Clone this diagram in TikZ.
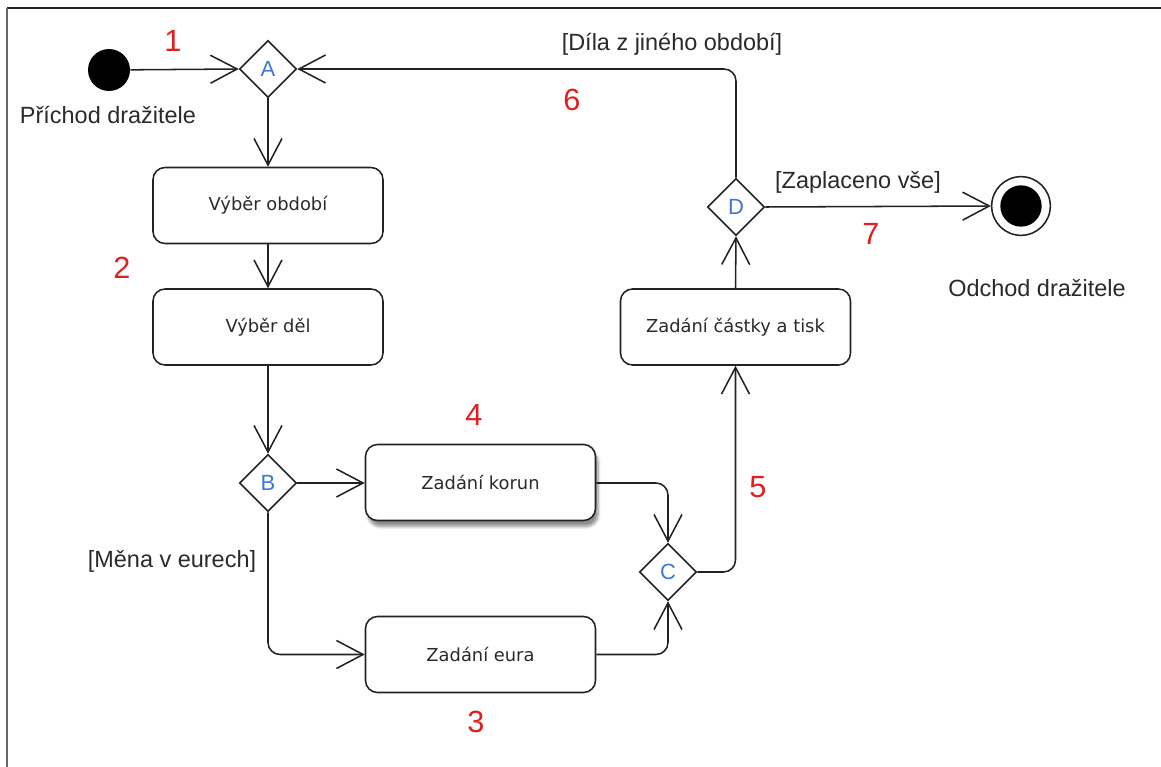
\documentclass[tikz,border=0pt]{standalone}
\usepackage{fontspec}
\setmainfont{Liberation Sans}
\newfontfamily\boxfont{DejaVu Sans}
\usetikzlibrary{arrows.meta,shapes.geometric,shadows.blur}
\definecolor{ink}{HTML}{222222}
\definecolor{txt}{HTML}{2A2A2A}
\definecolor{numred}{HTML}{E02020}
\definecolor{letblue}{HTML}{3C78D8}
\tikzset{
  flow/.style={draw=ink, line width=1.15pt, rounded corners=9pt,
    -{Straight Barb[length=20pt,width=21pt,line width=1.15pt]}},
  activity/.style={draw=ink, line width=1.15pt, rounded corners=9pt, fill=white,
    minimum width=172.5pt, minimum height=57pt, inner sep=0pt,
    font=\boxfont\fontsize{13.4pt}{15pt}\selectfont, text=txt},
  decision/.style={diamond, draw=ink, line width=1.15pt, fill=white,
    minimum width=42.75pt, minimum height=42.75pt, inner sep=0pt,
    font=\fontsize{16.5pt}{17pt}\selectfont, text=letblue},
  label/.style={font=\fontsize{17.6pt}{19pt}\selectfont, text=txt, inner sep=0pt},
  stepno/.style={font=\fontsize{23pt}{25pt}\selectfont, text=numred, inner sep=0pt}
}
\begin{document}
\begin{tikzpicture}[x=0.75pt,y=-0.75pt]
\useasboundingbox (0,0) rectangle (1161,767);
% frame edges
\draw[ink, line width=1.5pt] (7,8) -- (1161,8);
\draw[black!60, line width=1.5pt] (7,8) -- (7,767);

% start and end
\node[circle, fill=black, minimum size=31.5pt, inner sep=0pt] (ini) at (109,70) {};
\node[circle, draw=ink, line width=1.15pt, fill=white, minimum size=44pt, inner sep=0pt] (fin) at (1021,206) {};
\fill[black] (fin.center) circle (15.5pt);

% decisions
\node[decision] (A) at (268,69) {A};
\node[decision] (B) at (268,483) {B};
\node[decision] (C) at (668,572) {C};
\node[decision] (D) at (736,207) {D};

% activities
\node[activity] (vobd) at (268,205.5) {Výběr období};
\node[activity] (vdel) at (268,327) {Výběr děl};
\node[activity, blur shadow={shadow xshift=2pt, shadow yshift=-4.5pt, shadow blur steps=6, shadow opacity=45}] (kor) at (480.5,482.5) {Zadání korun};
\node[activity] (eur) at (480.5,654.5) {Zadání eura};
\node[activity] (cas) at (735.5,327) {Zadání částky a tisk};

% flows
\draw[flow] (ini) -- (A.west);
\draw[flow] (D.north) -- (D.north |- A.east) -- (A.east);
\draw[flow] (A.south) -- (vobd.north);
\draw[flow] (vobd.south) -- (vdel.north);
\draw[flow] (vdel.south) -- (B.north);
\draw[flow] (B.east) -- (B.east -| kor.west);
\draw[flow] (B.south) |- (eur.west);
\draw[flow] (kor.east |- B.east) -| (C.north);
\draw[flow] (eur.east) -| (C.south);
\draw[flow] (C.east) -| (cas.south);
\draw[flow] (cas.north) -- (D.south);
\draw[flow] (D.east) -- (fin.west);

% texts
\node[label] (tstart) at (108,115) {Příchod dražitele};
\node[label] (tend) at (1037,288) {Odchod dražitele};
\node[label] (gother) at (672,44) {[Díla z jiného období]};
\node[label] (gpaid) at (858,182) {[Zaplaceno vše]};
\node[label] (geur) at (172,561) {[Měna v eurech]};

\node[stepno] (n1) at (173,41) {1};
\node[stepno] (n2) at (122,268) {2};
\node[stepno] (n3) at (476,722) {3};
\node[stepno] (n4) at (474,415) {4};
\node[stepno] (n5) at (758,487) {5};
\node[stepno] (n6) at (572,100) {6};
\node[stepno] (n7) at (871,234) {7};
\end{tikzpicture}
\end{document}
